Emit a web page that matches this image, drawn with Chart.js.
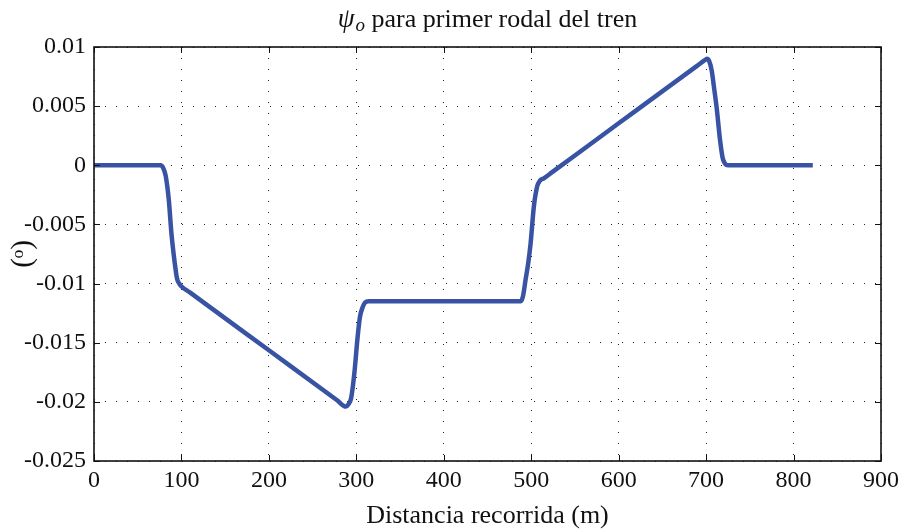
<!DOCTYPE html>
<html>
<head>
<meta charset="utf-8">
<script src="https://cdn.jsdelivr.net/npm/chart.js@4"></script>
<style>
  html, body { margin: 0; padding: 0; background: #fff; }
  #wrap { width: 904px; height: 532px; }
</style>
</head>
<body>
<div id="wrap"><canvas id="c" width="904" height="532"></canvas></div>
<script>
// Distance travelled along the track (m)
const distance = [0, 76, 79, 82, 85.5, 88.6, 92.4, 95, 97.5, 99.5,
  110, 200, 278, 288, 291, 294, 297.7, 301.5, 304.2, 307.2, 310, 314,
  488, 490.5, 493.5, 496.5, 499.3, 503, 506.8, 510, 514.4,
  524, 600, 690, 698, 701, 703.5, 706.4, 709, 712, 716, 719, 722, 725, 822];
// Yaw angle psi_o of the first wheelset (degrees)
const psiO = [0, 0, -0.0002, -0.0009, -0.0029, -0.0058, -0.0083, -0.0096, -0.0100, -0.0102,
  -0.01077, -0.01564, -0.01986, -0.0204, -0.0202, -0.0197, -0.0176, -0.0145, -0.0128, -0.0120, -0.0116, -0.0115,
  -0.0115, -0.0111, -0.0097, -0.0083, -0.0066, -0.0035, -0.0018, -0.0013, -0.0011,
  -0.00058, 0.00355, 0.00843, 0.00886, 0.00900, 0.00880, 0.0080, 0.0066, 0.0049, 0.0021, 0.0006, 0.0001, 0, 0];

const xTickValues = [0, 100, 200, 300, 400, 500, 600, 700, 800, 900];
const xTickLabels = ['0', '100', '200', '300', '400', '500', '600', '700', '800', '900'];
const yTickValues = [0.01, 0.005, 0, -0.005, -0.01, -0.015, -0.02, -0.025];
const yTickLabels = ['0.01', '0.005', '0', '-0.005', '-0.01', '-0.015', '-0.02', '-0.025'];

const titleSymbol = 'ψ';
const titleSubscript = 'o';
const titleRest = ' para primer rodal del tren';

const FONT = '"Liberation Serif", "DejaVu Serif", serif';
const INK = '#111';

// Title centred over the plot area: italic psi with subscript o, then plain text
const plotTitle = {
  id: 'plotTitle',
  afterDraw(chart) {
    const { ctx, chartArea: a } = chart;
    ctx.save();
    ctx.fillStyle = INK;
    ctx.textBaseline = 'alphabetic';
    ctx.textAlign = 'left';
    const fSym = 'italic 27px ' + FONT;
    const fSub = 'italic 19px ' + FONT;
    const fTxt = '26px ' + FONT;
    ctx.font = fSym; const w1 = ctx.measureText(titleSymbol).width;
    ctx.font = fSub; const w2 = ctx.measureText(titleSubscript).width;
    ctx.font = fTxt; const w3 = ctx.measureText(titleRest).width;
    const total = w1 + 1 + w2 + w3;
    let x = (a.left + a.right) / 2 - total / 2;
    const base = 27;
    ctx.font = fSym; ctx.fillText(titleSymbol, x, base); x += w1 + 1;
    ctx.font = fSub; ctx.fillText(titleSubscript, x, base + 4); x += w2;
    ctx.font = fTxt; ctx.fillText(titleRest, x, base);
    ctx.restore();
  }
};

// Closed frame with short inward tick marks on all four sides
const frameTicks = {
  id: 'frameTicks',
  afterDraw(chart) {
    const { ctx, chartArea: a, scales } = chart;
    ctx.save();
    ctx.strokeStyle = INK;
    ctx.lineWidth = 1;
    const len = 6;
    ctx.beginPath();
    xTickValues.forEach(v => {
      const x = Math.round(scales.x.getPixelForValue(v)) + 0.5;
      ctx.moveTo(x, a.bottom); ctx.lineTo(x, a.bottom - len);
      ctx.moveTo(x, a.top); ctx.lineTo(x, a.top + len);
    });
    yTickValues.forEach(v => {
      const y = Math.round(scales.y.getPixelForValue(v)) + 0.5;
      ctx.moveTo(a.left, y); ctx.lineTo(a.left + len, y);
      ctx.moveTo(a.right, y); ctx.lineTo(a.right - len, y);
    });
    ctx.stroke();
    ctx.lineWidth = 1.6;
    ctx.strokeRect(a.left, a.top, a.right - a.left, a.bottom - a.top);
    ctx.restore();
  }
};

new Chart(document.getElementById('c'), {
  type: 'line',
  data: {
    datasets: [{
      data: distance.map((d, i) => ({ x: d, y: psiO[i] })),
      borderColor: '#3953a4',
      borderWidth: 4.5,
      pointRadius: 0,
      cubicInterpolationMode: 'monotone',
      fill: false
    }]
  },
  options: {
    responsive: false,
    animation: false,
    layout: { padding: { left: 0, right: 21, top: 47, bottom: 0 } },
    plugins: {
      legend: { display: false },
      tooltip: { enabled: false },
      title: { display: false }
    },
    scales: {
      x: {
        type: 'linear',
        min: 0, max: 900,
        afterBuildTicks: s => { s.ticks = xTickValues.map(v => ({ value: v })); },
        afterFit: s => { s.height = 71; },
        ticks: {
          color: INK,
          font: { family: FONT, size: 24 },
          padding: 5,
          maxRotation: 0,
          callback: (v) => xTickLabels[xTickValues.indexOf(v)]
        },
        grid: { color: '#222', lineWidth: 1, drawTicks: false },
        border: { display: false, dash: [1, 10] },
        title: {
          display: true,
          text: 'Distancia recorrida (m)',
          color: INK,
          font: { family: FONT, size: 26 },
          padding: { top: 0, bottom: 0 }
        }
      },
      y: {
        type: 'linear',
        min: -0.025, max: 0.01,
        afterBuildTicks: s => { s.ticks = yTickValues.map(v => ({ value: v })); },
        afterFit: s => { s.width = 94; },
        ticks: {
          color: INK,
          font: { family: FONT, size: 24 },
          padding: 8,
          callback: (v) => {
            const i = yTickValues.findIndex(t => Math.abs(t - v) < 1e-9);
            return i >= 0 ? yTickLabels[i] : '';
          }
        },
        grid: { color: '#222', lineWidth: 1, drawTicks: false },
        border: { display: false, dash: [1, 10] },
        title: {
          display: true,
          text: '(ᵒ)',
          color: INK,
          font: { family: FONT, size: 29 },
          padding: { top: 6, bottom: 0 }
        }
      }
    }
  },
  plugins: [frameTicks, plotTitle]
});
</script>
</body>
</html>
